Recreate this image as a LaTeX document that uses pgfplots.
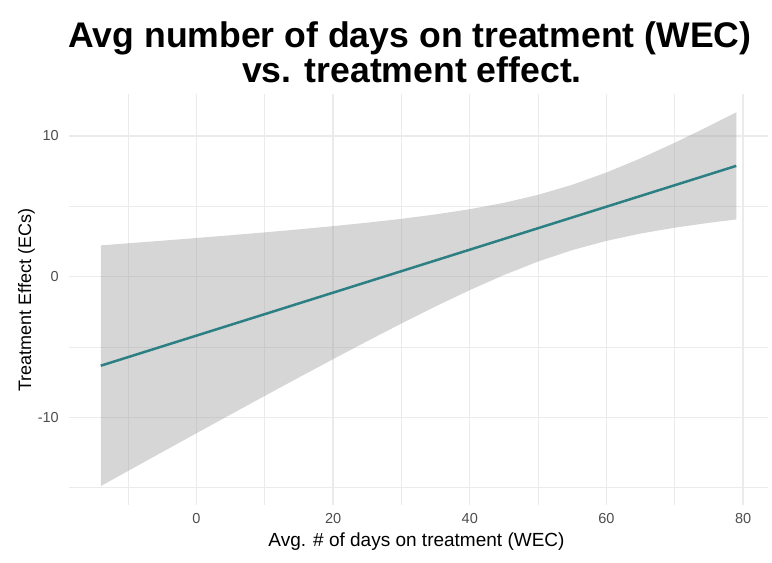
\documentclass[border=0pt]{standalone}
\usepackage{pgfplots}
\pgfplotsset{compat=1.18}
\usepackage{fontspec}
\setmainfont{Liberation Sans}
\definecolor{gridc}{RGB}{235,235,235}
\definecolor{bandc}{RGB}{153,153,153}
\definecolor{linec}{RGB}{44,127,131}
\definecolor{tickc}{RGB}{77,77,77}
\begin{document}
\begin{tikzpicture}[x=1bp,y=1bp]
\useasboundingbox (0,0) rectangle (772,563);
\begin{axis}[
  at={(69bp,57.8bp)}, anchor=south west,
  scale only axis, width=699bp, height=411.6bp,
  xmin=-18.65, xmax=83.65, ymin=-16.24, ymax=13.01,
  axis line style={draw=none},
  xtick={0,20,40,60,80}, xticklabels={0,20,40,60,80},
  ytick={-10,0,10}, yticklabels={-10,0,10},
  minor xtick={-10,10,30,50,70}, minor ytick={-15,-5,5},
  major tick length=0pt, minor tick length=0pt,
  tick style={draw=none},
  grid=both,
  major grid style={draw=gridc, line width=1.2bp},
  minor grid style={draw=gridc, line width=0.8bp},
  xticklabel style={font=\fontsize{14.5bp}{16bp}\selectfont, text=tickc, anchor=north, inner sep=0pt, yshift=-7.8bp},
  yticklabel style={font=\fontsize{14.5bp}{16bp}\selectfont, text=tickc, anchor=east, inner sep=0pt, xshift=-10bp},
  clip=false,
]
\addplot [fill=bandc, fill opacity=0.4, draw=none] coordinates {
(-14,2.225) (-10,2.371) (-5,2.557) (0,2.748) (5,2.944) (10,3.148) (15,3.362) (20,3.591) (25,3.837) (30,4.111) (35,4.424) (40,4.793) (45,5.246) (50,5.815) (55,6.531) (60,7.401) (65,8.408) (70,9.517) (75,10.700) (79,11.681)
(79,4.065) (75,3.826) (70,3.481) (65,3.064) (60,2.543) (55,1.887) (50,1.075) (45,0.118) (40,-0.957) (35,-2.114) (30,-3.329) (25,-4.583) (20,-5.863) (15,-7.162) (10,-8.474) (5,-9.798) (0,-11.128) (-5,-12.465) (-10,-13.805) (-14,-14.881)
} -- cycle;
\addplot [draw=linec, line width=2.5bp] coordinates {(-14,-6.328) (79,7.873)};
\end{axis}
\node[anchor=base, font=\fontsize{35.6bp}{38bp}\selectfont\bfseries] at (410,515) {Avg number of days on treatment (WEC)};
\node[anchor=base, font=\fontsize{35.6bp}{38bp}\selectfont\bfseries] at (412,480) {vs. treatment effect.};
\node[anchor=base, font=\fontsize{19bp}{22bp}\selectfont] at (416.5,16.3) {Avg. \# of days on treatment (WEC)};
\node[anchor=base, rotate=90, font=\fontsize{18bp}{22bp}\selectfont] at (31,263) {Treatment Effect (ECs)};
\end{tikzpicture}
\end{document}
